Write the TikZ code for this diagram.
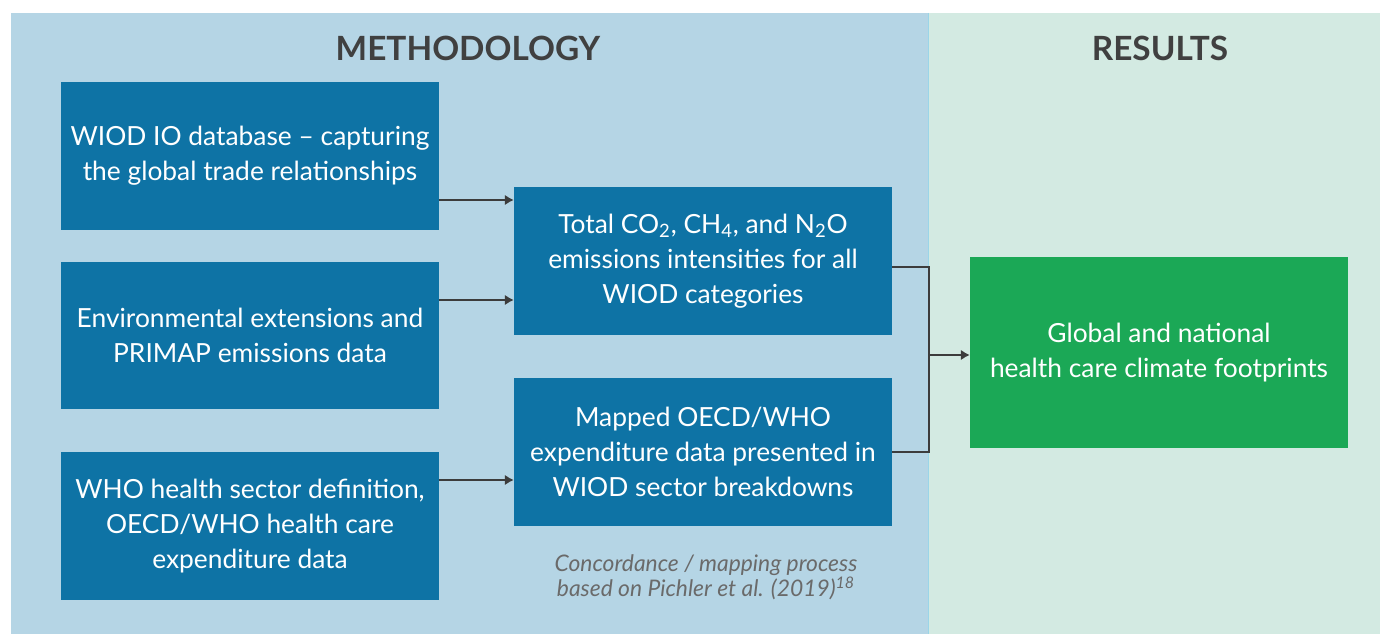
\documentclass[tikz,border=0pt]{standalone}
\usepackage{fontspec}
\setmainfont{Lato}
\usetikzlibrary{arrows.meta}
\definecolor{panelblue}{HTML}{B5D5E5}
\definecolor{panelgreen}{HTML}{D3EAE2}
\definecolor{boxblue}{HTML}{0E73A5}
\definecolor{boxgreen}{HTML}{1BA856}
\definecolor{linegray}{HTML}{3C3C3C}
\definecolor{titlegray}{HTML}{404040}
\definecolor{notegray}{HTML}{6A6A6A}
\tikzset{
  stepbox/.style={fill=boxblue, text=white, align=center, minimum width=7.56cm,
    minimum height=2.96cm, inner sep=0pt, font=\fontsize{15}{20}\selectfont},
  resultbox/.style={stepbox, fill=boxgreen, minimum height=3.82cm},
  heading/.style={text=titlegray, font=\fontsize{19}{23}\selectfont\bfseries},
  link/.style={draw=linegray, line width=1.3pt},
  arr/.style={link, -{Latex[length=5pt,width=6pt]}}
}
\begin{document}
\begin{tikzpicture}[x=0.02cm, y=-0.02cm]
\useasboundingbox (0,0) rectangle (1380,634);
\fill[panelblue] (11,13) rectangle (928,634); % methodology side
\fill[panelgreen] (929,13) rectangle (1380,634); % results side
\draw[color=cyan!30!panelgreen, line width=0.6pt] (928.5,13) -- (928.5,634);
\node[heading] (meth) at (468,48) {METHODOLOGY};
\node[heading] (res) at (1160,48) {RESULTS};
% boxes
\node[stepbox] (wiod) at (250,156) {WIOD IO database -- capturing\\the global trade relationships};
\node[stepbox] (env) at (250,335.5) {Environmental extensions and\\PRIMAP emissions data};
\node[stepbox] (who) at (250,526) {WHO health sector definition,\\OECD/WHO health care\\expenditure data};
\node[stepbox] (total) at (703,261) {Total CO\textsubscript{2}, CH\textsubscript{4}, and N\textsubscript{2}O\\emissions intensities for all\\WIOD categories};
\node[stepbox] (mapped) at (703,452) {Mapped OECD/WHO\\expenditure data presented in\\WIOD sector breakdowns};
\node[resultbox] (foot) at (1159,352.5) {Global and national\\health care climate footprints};
\node[text=notegray, align=center, font=\fontsize{13}{14.5}\selectfont\itshape] (note) at (706,577)
  {Concordance / mapping process\\based on Pichler et al. (2019)\textsuperscript{18}};
% arrows
\coordinate (ya) at (0,200);
\coordinate (yb) at (0,300);
\coordinate (yc) at (0,480);
\coordinate (yd) at (0,267);
\coordinate (join) at (929,355);
\draw[arr] (wiod.east |- ya) -- (total.west |- ya);
\draw[arr] (env.east |- yb) -- (total.west |- yb);
\draw[arr] (who.east |- yc) -- (mapped.west |- yc);
\draw[link] (total.east |- yd) -| (join);
\draw[link] (mapped.east) -| (join);
\draw[arr] (join) -- (foot.west |- join);
\end{tikzpicture}
\end{document}
